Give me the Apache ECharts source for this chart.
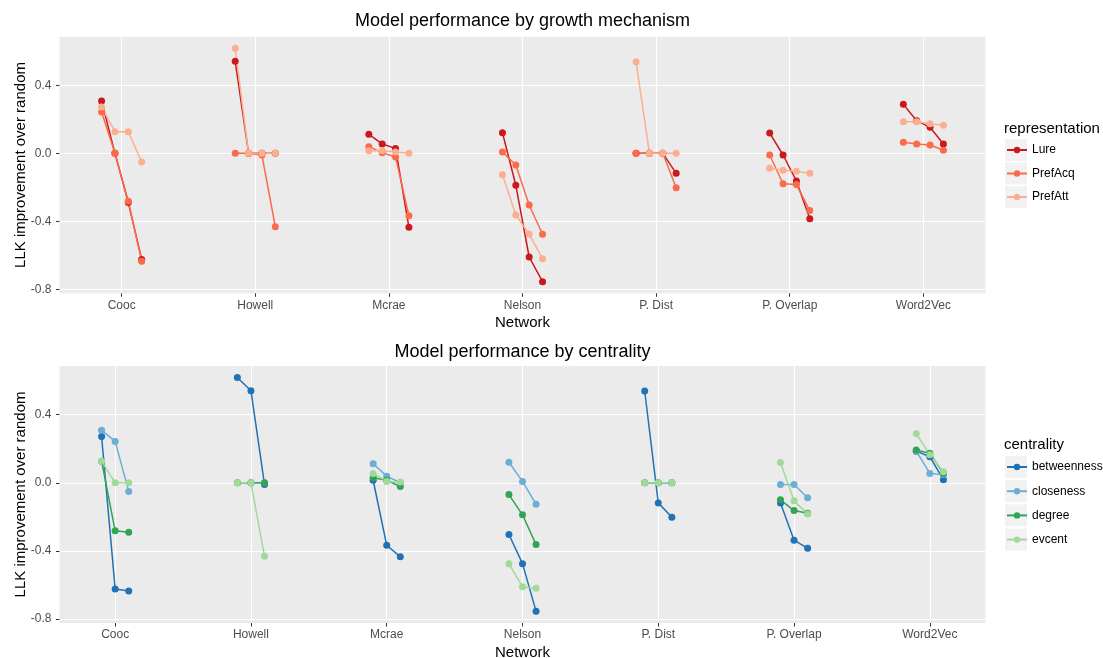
<!DOCTYPE html>
<html><head><meta charset="utf-8">
<script src="https://cdn.jsdelivr.net/npm/echarts@6/dist/echarts.min.js"></script>
<style>html,body{margin:0;padding:0;background:#fff}#c{width:1103px;height:658px}</style>
</head><body><div id="c"></div>
<script>
// ---- data ----
const networks = ['Cooc', 'Howell', 'Mcrae', 'Nelson', 'P. Dist', 'P. Overlap', 'Word2Vec'];
const representations = ['Lure', 'PrefAcq', 'PrefAtt'];
const centralities = ['betweenness', 'closeness', 'degree', 'evcent'];
const yTicks = [-0.8, -0.4, 0.0, 0.4];

// LLK improvement over random, one value per network (order of `networks`)
const lure_betweenness    = [-0.624, 0.541, -0.435, -0.755, -0.118, -0.385, 0.153];
const lure_closeness      = [ 0.308, 0.000,  0.112,  0.121,  0.000, -0.010, 0.055];
const lure_degree         = [-0.290, 0.000,  0.029, -0.188,  0.000, -0.163, 0.192];
const lure_evcent         = [ 0.000, 0.000,  0.055, -0.610,  0.000,  0.119, 0.288];
const prefacq_betweenness = [-0.635, -0.010, -0.367, -0.304, -0.202, -0.337, 0.018];
const prefacq_closeness   = [ 0.243,  0.000,  0.039,  0.008,  0.000, -0.010, 0.049];
const prefacq_degree      = [-0.282,  0.000, -0.022, -0.069,  0.000, -0.179, 0.055];
const prefacq_evcent      = [ 0.000, -0.432,  0.004, -0.476,  0.000, -0.184, 0.065];
const prefatt_betweenness = [ 0.272, 0.618, 0.015, -0.475, 0.539, -0.118, 0.186];
const prefatt_closeness   = [-0.051, 0.000, 0.000, -0.126, 0.000, -0.088, 0.186];
const prefatt_degree      = [ 0.127, 0.000, 0.015, -0.363, 0.000, -0.100, 0.174];
const prefatt_evcent      = [ 0.127, 0.000, 0.008, -0.620, 0.000, -0.106, 0.165];

const table = {
  Lure:    {betweenness: lure_betweenness, closeness: lure_closeness, degree: lure_degree, evcent: lure_evcent},
  PrefAcq: {betweenness: prefacq_betweenness, closeness: prefacq_closeness, degree: prefacq_degree, evcent: prefacq_evcent},
  PrefAtt: {betweenness: prefatt_betweenness, closeness: prefatt_closeness, degree: prefatt_degree, evcent: prefatt_evcent}
};

const repColors = ['#CB181D', '#FB6A4A', '#FCAE91'];
const centColors = ['#2171B5', '#6BAED6', '#31A354', '#A1D99B'];
const DODGE = 0.1;

// ---- series ----
const series = [];
function addPanel(groups, members, colors, getVal, axisIdx) {
  const scatterData = groups.map(() => []);
  groups.forEach((g, gi) => {
    networks.forEach((net, ni) => {
      const vals = members.map(m => getVal(g, m, ni)).sort((a, b) => b - a);
      const pts = vals.map((v, k) => [ni + (k - (vals.length - 1) / 2) * DODGE, v]);
      series.push({
        type: 'line', name: g, xAxisIndex: axisIdx, yAxisIndex: axisIdx, data: pts,
        symbol: 'circle', showSymbol: false, silent: true, z: 2,
        lineStyle: {color: colors[gi], width: 1.5}, itemStyle: {color: colors[gi]}
      });
      scatterData[gi].push(...pts);
    });
  });
  groups.forEach((g, gi) => {
    series.push({
      type: 'scatter', name: g, xAxisIndex: axisIdx, yAxisIndex: axisIdx, data: scatterData[gi],
      symbol: 'circle', symbolSize: 7, silent: true, z: 3,
      itemStyle: {color: colors[gi], opacity: 1}
    });
  });
}
addPanel(representations, centralities, repColors, (r, c, n) => table[r][c][n], 0);
addPanel(centralities, representations, centColors, (c, r, n) => table[r][c][n], 1);

// ---- axes ----
const xTickVals = networks.map((_, i) => i);
function xAxis(idx, pad) {
  return {
    type: 'value', gridIndex: idx, min: -pad, max: networks.length - 1 + pad,
    axisLine: {show: false, onZero: false},
    axisTick: {show: true, customValues: xTickVals, length: 3.5, lineStyle: {color: '#333333', width: 1}},
    axisLabel: {customValues: xTickVals, formatter: v => networks[Math.round(v)], color: '#4D4D4D',
      fontSize: 12, fontFamily: 'Liberation Sans', margin: 6},
    splitLine: {show: true, lineStyle: {color: '#FFFFFF', width: 1.1}},
    name: 'Network', nameLocation: 'middle', nameGap: 22,
    nameTextStyle: {color: '#000000', fontSize: 15, fontFamily: 'Liberation Sans'}
  };
}
function yAxis(idx) {
  return {
    type: 'value', gridIndex: idx, min: -0.8235, max: 0.686,
    axisLine: {show: false, onZero: false},
    axisTick: {show: true, customValues: yTicks, length: 3.5, lineStyle: {color: '#333333', width: 1}},
    axisLabel: {customValues: yTicks, formatter: v => v.toFixed(1), color: '#4D4D4D',
      fontSize: 12, fontFamily: 'Liberation Sans', margin: 8},
    splitLine: {show: true, lineStyle: {color: '#FFFFFF', width: 1.1}},
    name: 'LLK improvement over random', nameLocation: 'middle', nameRotate: 90, nameGap: 31,
    nameMoveOverlap: false,
    nameTextStyle: {color: '#000000', fontSize: 15, fontFamily: 'Liberation Sans'}
  };
}

// legend key backgrounds
const graphics = [];
[150, 173.5, 197].forEach(cy => graphics.push({type: 'rect', left: 1005, top: cy - 11, shape: {width: 22, height: 22}, style: {fill: '#F2F2F2'}, z: 0}));
[467, 491.2, 515.4, 539.6].forEach(cy => graphics.push({type: 'rect', left: 1005, top: cy - 11, shape: {width: 22, height: 22}, style: {fill: '#F2F2F2'}, z: 0}));

const titleStyle = {color: '#000000', fontSize: 18, fontWeight: 'normal', fontFamily: 'Liberation Sans'};
const legTitleStyle = {color: '#000000', fontSize: 15, fontWeight: 'normal', fontFamily: 'Liberation Sans'};

const option = {
  animation: false,
  backgroundColor: '#FFFFFF',
  title: [
    {text: 'Model performance by growth mechanism', left: 522.5, textAlign: 'center', top: 12, padding: 0, textStyle: titleStyle},
    {text: 'Model performance by centrality', left: 522.5, textAlign: 'center', top: 343, padding: 0, textStyle: titleStyle},
    {text: 'representation', left: 1004, top: 121, padding: 0, textStyle: legTitleStyle},
    {text: 'centrality', left: 1004, top: 437, padding: 0, textStyle: legTitleStyle}
  ],
  grid: [
    {left: 59.5, top: 36.7, width: 926, height: 256.6, show: true, backgroundColor: '#EBEBEB', borderWidth: 0,
      containLabel: false, outerBoundsMode: 'none'},
    {left: 59.5, top: 366, width: 926, height: 257, show: true, backgroundColor: '#EBEBEB', borderWidth: 0,
      containLabel: false, outerBoundsMode: 'none'}
  ],
  xAxis: [xAxis(0, 0.465), xAxis(1, 0.41)],
  yAxis: [yAxis(0), yAxis(1)],
  legend: [
    {data: representations, orient: 'vertical', left: 1006, top: 144, padding: 0, itemWidth: 20, itemHeight: 8, itemGap: 11.5,
      selectedMode: false, textStyle: {color: '#000000', fontSize: 12, fontFamily: 'Liberation Sans'}},
    {data: centralities, orient: 'vertical', left: 1006, top: 461, padding: 0, itemWidth: 20, itemHeight: 8, itemGap: 12.2,
      selectedMode: false, textStyle: {color: '#000000', fontSize: 12, fontFamily: 'Liberation Sans'}}
  ],
  graphic: graphics,
  series: series
};
const chart = echarts.init(document.getElementById('c'));
chart.setOption(option);
</script>
</body></html>
